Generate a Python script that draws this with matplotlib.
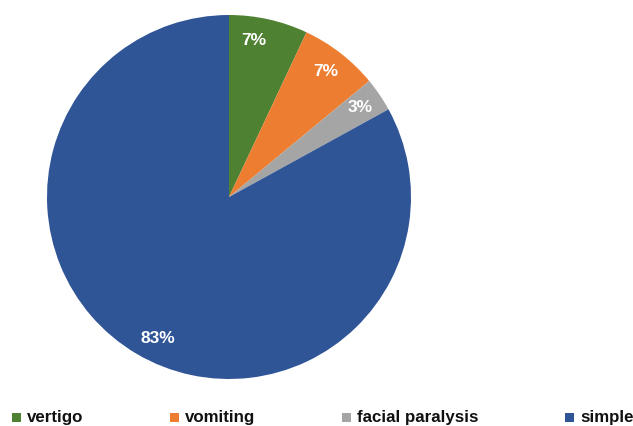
import matplotlib
matplotlib.use("Agg")
from matplotlib import pyplot as plt
from matplotlib.patches import Rectangle

labels = ["vertigo", "vomiting", "facial paralysis", "simple"]
values = [7, 7, 3, 83]
colors = ["#4f8132", "#ed7d31", "#a5a5a5", "#2f5597"]
legend_x = [12, 170, 342, 565]

plt.rcParams['font.family'] = ['Liberation Sans', 'DejaVu Sans']

fig = plt.figure(figsize=(6.33, 4.26), dpi=100)
ax = fig.add_axes([47 / 633, (426 - 197 - 182) / 426, 364 / 633, 364 / 426])
wedges, texts, autotexts = ax.pie(
    values, colors=colors, startangle=90, counterclock=False,
    autopct="%d%%", pctdistance=0.87,
    textprops=dict(color="white", fontsize=12.5, fontweight="bold"),
)
# small label nudges to match the original placement
x0, y0 = autotexts[0].get_position()
autotexts[0].set_position((x0 - 0.055, y0 + 0.01))
x3, y3 = autotexts[3].get_position()
autotexts[3].set_position((x3 + 0.05, y3 - 0.03))
ax.set_xlim(-1, 1)
ax.set_ylim(-1, 1)
ax.set_aspect("equal")

for x, lab, c in zip(legend_x, labels, colors):
    fig.patches.append(Rectangle((x / 633, (426 - 422) / 426), 9 / 633, 9 / 426,
                                 transform=fig.transFigure, facecolor=c, edgecolor="none"))
    fig.text((x + 15) / 633, (426 - 422) / 426, lab, fontsize=12.2, fontweight="bold",
             color="#111111", va="baseline")

fig.savefig("out.png", dpi=100)
